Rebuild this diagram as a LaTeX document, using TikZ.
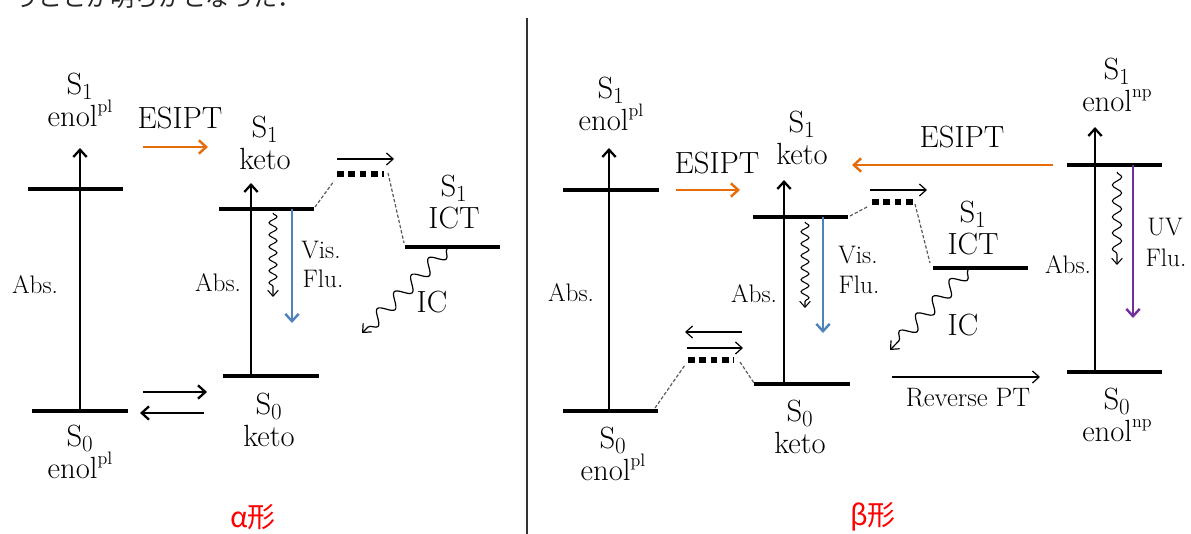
\documentclass[tikz,border=0pt]{standalone}
\usepackage{fontspec}
\newfontfamily\jp{Noto Sans CJK JP}
\usetikzlibrary{arrows.meta,decorations.pathmorphing}
\newcommand{\sps}[1]{\raisebox{0.45em}{\fontsize{13.5}{13.5}\selectfont #1}}
\newcommand{\Sone}{\(\mathrm{S}_1\)}
\newcommand{\Szero}{\(\mathrm{S}_0\)}
\definecolor{esorange}{RGB}{228,108,10}
\definecolor{flublue}{RGB}{79,129,189}
\definecolor{flupurple}{RGB}{112,48,160}
\begin{document}
\begin{tikzpicture}[x=0.75pt,y=-0.75pt,
  lvl/.style={line width=2.4pt},
  absarr/.style={line width=2.2pt,-{Straight Barb[length=5.5pt,width=10pt,line width=1.7pt]}},
  eqarr/.style={line width=2.2pt,-{Straight Barb[length=5.5pt,width=10pt,line width=1.7pt]}},
  thinarr/.style={line width=0.9pt,-{Straight Barb[length=5pt,width=9pt,line width=0.9pt]}},
  esarr/.style={esorange,line width=2.2pt,-{Straight Barb[length=5.5pt,width=10pt,line width=1.8pt]}},
  fluarr/.style={line width=2.2pt,-{Straight Barb[length=5.5pt,width=10pt,line width=1.8pt]}},
  dashl/.style={gray!70!black,line width=0.9pt,dash pattern=on 2.5pt off 1.5pt},
  sq/.style={line width=4.5pt,dash pattern=on 5pt off 3.5pt},
  wavy/.style={line width=0.8pt,-{Straight Barb[length=4.5pt,width=8pt,line width=0.8pt]},
    decorate,decoration={snake,amplitude=3pt,segment length=9pt,post length=4pt}},
  npwavy/.style={line width=0.8pt,-{Straight Barb[length=4.5pt,width=8pt,line width=0.8pt]},
    decorate,decoration={snake,amplitude=3.5pt,segment length=12pt,post length=4pt}},
  bigwavy/.style={line width=0.9pt,-{Straight Barb[length=5pt,width=9pt,line width=0.9pt]},
    decorate,decoration={snake,amplitude=5pt,segment length=18pt,post length=5pt}},
  lab/.style={font=\fontsize{23}{25}\selectfont,inner sep=0pt},
  stack/.style={font=\fontsize{23}{24}\selectfont,inner sep=0pt,align=center},
  sml/.style={font=\fontsize{19}{22}\selectfont,inner sep=0pt},
  kei/.style={font=\jp\fontsize{21}{24}\selectfont,text=red,inner sep=0pt}
]
\useasboundingbox (0,0) rectangle (1191,534);
\clip (0,0) rectangle (1191,534);

% cut-off line of text at top
\node[anchor=base west,font=\jp\fontsize{18}{18}\selectfont,text=black!85,inner sep=0pt] (toptext) at (14,7) {うことが明らかとなった．};

% divider
\coordinate (divT) at (527,18);
\coordinate (divB) at (527,534);
\draw[line width=0.9pt,black!80] (divT) -- (divB);

%================ alpha ================
\coordinate (aE1l) at (28,189);  \coordinate (aE1r) at (123,189);
\coordinate (aE0l) at (32,411);  \coordinate (aE0r) at (128,411);
\coordinate (aAb0) at (80,411);  \coordinate (aAb1) at (80,148);
\draw[lvl] (aE1l) -- (aE1r);
\draw[lvl] (aE0l) -- (aE0r);
\draw[absarr] (aAb0) -- (aAb1);

\node[stack] (aS1e) at (80,100) {\Sone\\enol\sps{pl}};
\node[sml] (aAbsL) at (35,285) {Abs.};
\node[stack] (aS0e) at (80,452) {\Szero\\enol\sps{pl}};

\node[lab] (aESIPT) at (180,118) {ESIPT};
\coordinate (aEs0) at (143,147); \coordinate (aEs1) at (208,147);
\draw[esarr] (aEs0) -- (aEs1);

\coordinate (aK1l) at (219,209); \coordinate (aK1r) at (314,209);
\coordinate (aK0l) at (223,376); \coordinate (aK0r) at (319,376);
\coordinate (aKA0) at (251,376); \coordinate (aKA1) at (251,183);
\draw[lvl] (aK1l) -- (aK1r);
\draw[lvl] (aK0l) -- (aK0r);
\draw[absarr] (aKA0) -- (aKA1);
\node[stack] (aS1k) at (265,143) {\Sone\\keto};
\node[sml] (aAbsK) at (218,283) {Abs.};
\node[stack] (aS0k) at (269,420) {\Szero\\keto};

\coordinate (aW0) at (273,213); \coordinate (aW1) at (273,297);
\draw[wavy] (aW0) -- (aW1);
\coordinate (aB0) at (292,209); \coordinate (aB1) at (292,323);
\draw[fluarr,flublue] (aB0) -- (aB1);
\node[sml] (aVis) at (321,250) {Vis.};
\node[sml] (aFlu) at (323,279) {Flu.};

\coordinate (aD0) at (315,207); \coordinate (aD1) at (334,181);
\coordinate (aQ0) at (337,174); \coordinate (aQ1) at (384,174);
\coordinate (aD2) at (388,173); \coordinate (aD3) at (404,243);
\draw[dashl] (aD0) -- (aD1);
\draw[sq] (aQ0) -- (aQ1);
\draw[dashl] (aD2) -- (aD3);
\coordinate (aT0) at (337,159); \coordinate (aT1) at (394,159);
\draw[thinarr] (aT0) -- (aT1);

\coordinate (aI1l) at (405,247); \coordinate (aI1r) at (500,247);
\draw[lvl] (aI1l) -- (aI1r);
\node[stack] (aS1i) at (454,202) {\Sone\\ICT};
\coordinate (aIC0) at (447,249); \coordinate (aIC1) at (362,333);
\draw[bigwavy] (aIC0) -- (aIC1);
\node[lab] (aIC) at (432,302) {IC};

\coordinate (aQa0) at (143,392); \coordinate (aQa1) at (207,392);
\coordinate (aQb0) at (204,413); \coordinate (aQb1) at (140,413);
\draw[eqarr] (aQa0) -- (aQa1);
\draw[eqarr] (aQb0) -- (aQb1);

\node[kei] (alpha) at (253,517) {α形};

%================ beta ================
\coordinate (bE1l) at (563,190); \coordinate (bE1r) at (659,190);
\coordinate (bE0l) at (563,411); \coordinate (bE0r) at (658,411);
\coordinate (bAb0) at (609,411); \coordinate (bAb1) at (609,148);
\draw[lvl] (bE1l) -- (bE1r);
\draw[lvl] (bE0l) -- (bE0r);
\draw[absarr] (bAb0) -- (bAb1);
\node[stack] (bS1e) at (611,104) {\Sone\\enol\sps{pl}};
\node[sml] (bAbsL) at (571,293) {Abs.};
\node[stack] (bS0e) at (613,454) {\Szero\\enol\sps{pl}};

\node[lab] (bESIPT) at (717,163) {ESIPT};
\coordinate (bEs0) at (676,190); \coordinate (bEs1) at (740,190);
\draw[esarr] (bEs0) -- (bEs1);

\coordinate (bK1l) at (753,217); \coordinate (bK1r) at (848,217);
\coordinate (bK0l) at (754,384); \coordinate (bK0r) at (850,384);
\coordinate (bKA0) at (784,384); \coordinate (bKA1) at (784,180);
\draw[lvl] (bK1l) -- (bK1r);
\draw[lvl] (bK0l) -- (bK0r);
\draw[absarr] (bKA0) -- (bKA1);
\node[stack] (bS1k) at (802,138) {\Sone\\keto};
\node[sml] (bAbsK) at (754,294) {Abs.};
\node[stack] (bS0k) at (800,427) {\Szero\\keto};

\coordinate (bW0) at (805,222); \coordinate (bW1) at (805,308);
\draw[wavy] (bW0) -- (bW1);
\coordinate (bB0) at (823,217); \coordinate (bB1) at (823,333);
\draw[fluarr,flublue] (bB0) -- (bB1);
\node[sml] (bVis) at (858,255) {Vis.};
\node[sml] (bFlu) at (859,285) {Flu.};

\coordinate (bD0) at (850,216); \coordinate (bD1) at (867,207);
\coordinate (bQ0) at (872,202); \coordinate (bQ1) at (917,202);
\coordinate (bD2) at (915,204); \coordinate (bD3) at (930,263);
\draw[dashl] (bD0) -- (bD1);
\draw[sq] (bQ0) -- (bQ1);
\draw[dashl] (bD2) -- (bD3);
\coordinate (bT0) at (870,190); \coordinate (bT1) at (927,190);
\draw[thinarr] (bT0) -- (bT1);

\coordinate (bL0) at (1053,165); \coordinate (bL1) at (852,165);
\draw[esarr] (bL0) -- (bL1);
\node[lab] (bESIPT2) at (962,137) {ESIPT};

\coordinate (bI1l) at (933,268); \coordinate (bI1r) at (1028,268);
\draw[lvl] (bI1l) -- (bI1r);
\node[stack] (bS1i) at (973,228) {\Sone\\ICT};
\coordinate (bIC0) at (968,270); \coordinate (bIC1) at (890,350);
\draw[bigwavy] (bIC0) -- (bIC1);
\node[lab] (bIC) at (963,325) {IC};

\coordinate (bR0) at (892,377); \coordinate (bR1) at (1040,377);
\draw[thinarr] (bR0) -- (bR1);
\node[font=\fontsize{20}{22}\selectfont,inner sep=0pt] (bRev) at (968,398) {Reverse PT};

\coordinate (bN1l) at (1067,165); \coordinate (bN1r) at (1162,165);
\coordinate (bN0l) at (1067,372); \coordinate (bN0r) at (1162,372);
\coordinate (bNA0) at (1095,372); \coordinate (bNA1) at (1095,127);
\draw[lvl] (bN1l) -- (bN1r);
\draw[lvl] (bN0l) -- (bN0r);
\draw[absarr] (bNA0) -- (bNA1);
\node[stack] (bS1n) at (1117,85) {\Sone\\enol\sps{np}};
\node[sml] (bAbsN) at (1068,265) {Abs.};
\coordinate (bNW0) at (1117,172); \coordinate (bNW1) at (1117,265);
\draw[npwavy] (bNW0) -- (bNW1);
\coordinate (bP0) at (1133,165); \coordinate (bP1) at (1133,318);
\draw[fluarr,flupurple] (bP0) -- (bP1);
\node[sml] (bUV) at (1165,227) {UV};
\node[sml] (bFluN) at (1166,258) {Flu.};
\node[stack] (bS0n) at (1117,415) {\Szero\\enol\sps{np}};

\coordinate (bQa0) at (742,332); \coordinate (bQa1) at (685,332);
\coordinate (bQb0) at (687,348); \coordinate (bQb1) at (743,348);
\draw[thinarr] (bQa0) -- (bQa1);
\draw[thinarr] (bQb0) -- (bQb1);
\coordinate (bS0) at (688,360); \coordinate (bS1) at (734,360);
\draw[sq] (bS0) -- (bS1);
\coordinate (bG0) at (655,408); \coordinate (bG1) at (685,365);
\coordinate (bG2) at (740,362); \coordinate (bG3) at (754,383);
\draw[dashl] (bG0) -- (bG1);
\draw[dashl] (bG2) -- (bG3);

\node[kei] (beta) at (873,517) {β形};
\end{tikzpicture}
\end{document}
